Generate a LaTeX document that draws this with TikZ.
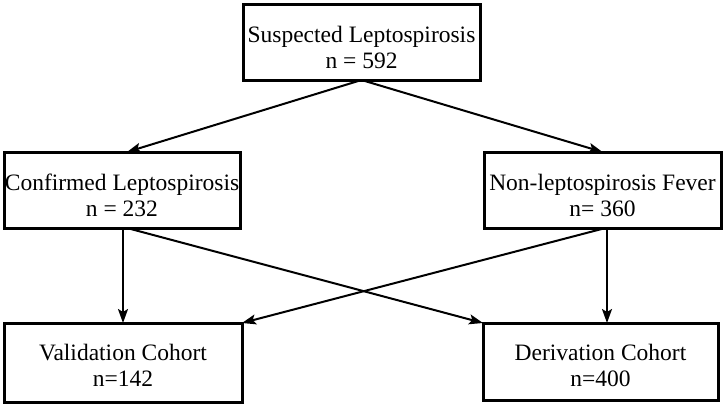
\documentclass[tikz,border=0pt]{standalone}
\usepackage{fontspec}
\setmainfont{Liberation Serif}
\usetikzlibrary{arrows.meta}
\newcommand\twoline[2]{\begin{tabular}[t]{@{}c@{}}#1\\#2\end{tabular}}
\tikzset{
  box/.style={draw=black, line width=3pt, rectangle, inner sep=0pt, outer sep=0pt, fill=white},
  lbl/.style={anchor=base, inner sep=0pt, font=\fontsize{23.5}{26}\selectfont},
  arr/.style={draw=black, line width=2pt, -{Stealth[length=14pt,width=10pt,inset=3pt]}}
}
\begin{document}
\begin{tikzpicture}[x=1pt,y=-1pt]
\useasboundingbox[fill=white] (0,0) rectangle (725,405);
\node[box, minimum width=237pt, minimum height=76pt] (top) at (361.5,42) {};
\node[box, minimum width=236pt, minimum height=76pt] (conf) at (122,190) {};
\node[box, minimum width=237pt, minimum height=76pt] (non) at (602.5,190) {};
\node[box, minimum width=238pt, minimum height=79pt] (val) at (123,362.5) {};
\node[box, minimum width=235pt, minimum height=77pt] (deriv) at (600.5,361.5) {};
\node[lbl] (topt) at ([yshift=-0.5pt]top.center) {\twoline{Suspected Leptospirosis}{n = 592}};
\node[lbl] (conft) at (conf.center) {\twoline{Confirmed Leptospirosis}{n = 232}};
\node[lbl] (nont) at (non.center) {\twoline{Non-leptospirosis Fever}{n= 360}};
\node[lbl] (valt) at ([yshift=2pt]val.center) {\twoline{Validation Cohort}{n=142}};
\node[lbl] (derivt) at ([yshift=1pt]deriv.center) {\twoline{Derivation Cohort}{n=400}};
\draw[arr] (top.south) -- ([xshift=5pt]conf.north);
\draw[arr] (top.south) -- (non.north);
\draw[arr] (conf.south -| val.north) -- (val.north);
\draw[arr] ([xshift=5pt]conf.south) -- (deriv.north west);
\draw[arr] ([xshift=4.5pt]non.south) -- ([xshift=4.5pt]non.south |- deriv.north);
\draw[arr] ([xshift=3pt]non.south) -- (val.north east);
\end{tikzpicture}
\end{document}
